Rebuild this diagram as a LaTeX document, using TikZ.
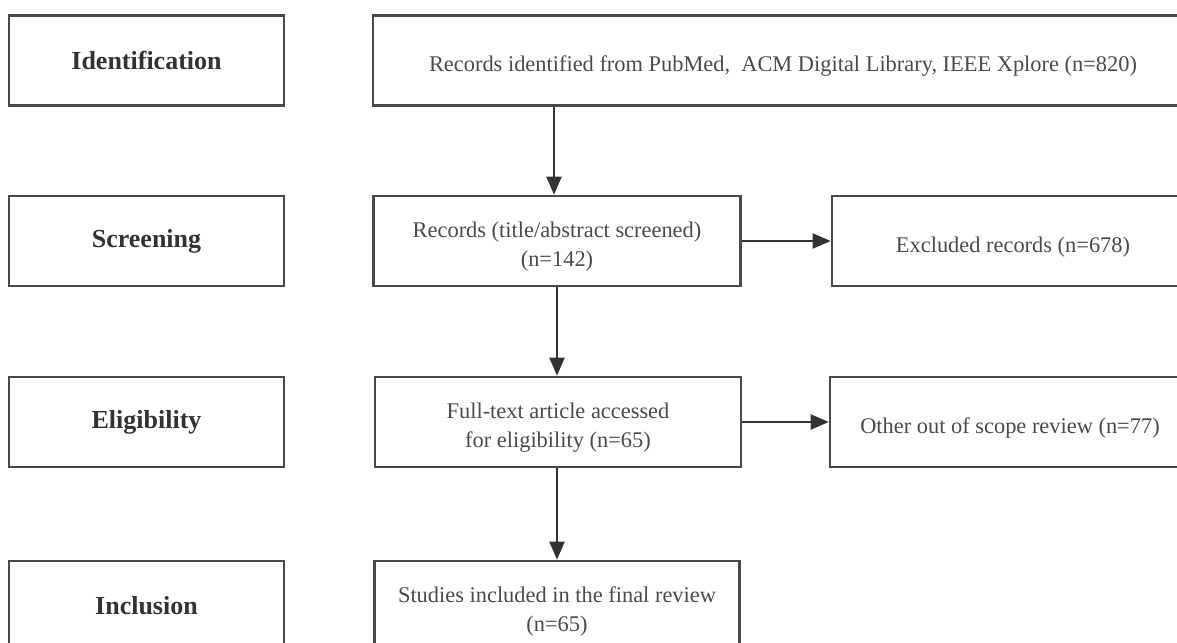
\documentclass[tikz,border=0pt]{standalone}
\usepackage{fontspec}
\setmainfont{Liberation Serif}
\usepackage{xcolor}
\usetikzlibrary{arrows.meta}
\definecolor{boxline}{HTML}{464B50}
\definecolor{arrowline}{HTML}{333333}
\definecolor{bodytext}{HTML}{4A4A4A}

\begin{document}
\begin{tikzpicture}[x=1pt,y=-1pt,
  stage/.style={draw=boxline,line width=2.6pt,minimum width=275pt,minimum height=90pt,
    inner sep=0pt,text=black!80,font=\fontsize{26}{30}\selectfont\bfseries},
  box/.style={draw=boxline,line width=2.6pt,minimum height=90pt,inner sep=0pt,
    text=bodytext,align=center,font=\fontsize{22.4}{29}\selectfont,text height=27pt},
  twoline/.style={box,text height=56pt},
  flow/.style={draw=arrowline,line width=2pt,-{Triangle[length=18pt,width=15pt]}}]
  \useasboundingbox (0,0) rectangle (1177,642);
  \node[stage] (ident) at (146.5,60.5) {Identification};
  \node[stage] (screen) at (146.5,241) {Screening};
  \node[stage] (elig) at (146.5,422) {Eligibility};
  \node[stage] (incl) at (146.5,606) {Inclusion};
  \node[box,minimum width=820pt] (found) at (783,60.5) {Records identified from PubMed,\ \ ACM Digital Library, IEEE Xplore (n=820)};
  \node[twoline,minimum width=367pt] (screened) at (557,241) {Records (title/abstract screened)\\(n=142)};
  \node[box,minimum width=362pt] (excluded) at (1013,241) {Excluded records (n=678)};
  \node[twoline,minimum width=366pt] (fulltext) at (558,422) {Full-text article accessed\\for eligibility (n=65)};
  \node[box,minimum width=360pt] (outscope) at (1010,422) {Other out of scope review (n=77)};
  \node[twoline,minimum width=365pt] (studies) at (557,606) {Studies included in the final review\\(n=65)};
  \draw[flow] (found.south -| 554,0) -- (screened.north -| 554,0);
  \draw[flow] (screened.east) -- (excluded.west);
  \draw[flow] (screened.south) -- (fulltext.north -| screened.south);
  \draw[flow] (fulltext.east) -- (outscope.west);
  \draw[flow] (fulltext.south -| studies.north) -- (studies.north);
\end{tikzpicture}
\end{document}
